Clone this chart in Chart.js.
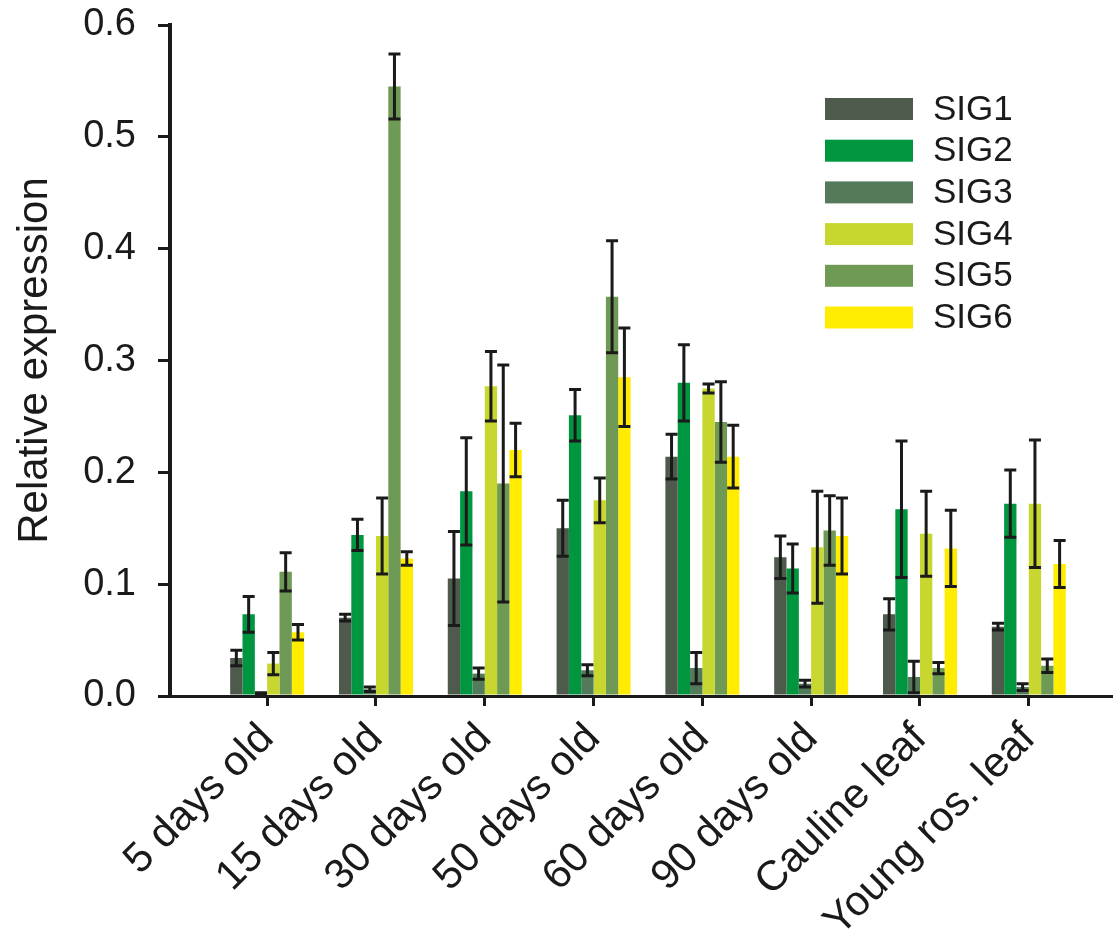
<!DOCTYPE html>
<html>
<head>
<meta charset="utf-8">
<script src="https://cdn.jsdelivr.net/npm/chart.js@4.4.1/dist/chart.umd.min.js"></script>
<style>
  html, body { margin: 0; padding: 0; background: #fff; }
  #wrap { width: 1113px; height: 938px; }
</style>
</head>
<body>
<div id="wrap"><canvas id="chart"></canvas></div>
<script>
// Tissues / ages on the x axis
const categories = ['5 days old', '15 days old', '30 days old', '50 days old',
  '60 days old', '90 days old', 'Cauline leaf', 'Young ros. leaf'];

// Mean relative expression per sigma factor
const sig1 = [0.034, 0.070, 0.105, 0.150, 0.214, 0.124, 0.073, 0.062];
const sig2 = [0.073, 0.144, 0.183, 0.251, 0.280, 0.114, 0.167, 0.172];
const sig3 = [0.002, 0.006, 0.020, 0.023, 0.025, 0.011, 0.017, 0.008];
const sig4 = [0.029, 0.143, 0.277, 0.175, 0.275, 0.133, 0.145, 0.172];
const sig5 = [0.111, 0.545, 0.190, 0.357, 0.245, 0.148, 0.025, 0.027];
const sig6 = [0.057, 0.123, 0.220, 0.285, 0.214, 0.143, 0.132, 0.118];

// Error bar half-widths (SD)
const sig1Err = [0.007, 0.003, 0.042, 0.025, 0.020, 0.019, 0.014, 0.003];
const sig2Err = [0.016, 0.014, 0.048, 0.023, 0.034, 0.022, 0.061, 0.030];
const sig3Err = [0.001, 0.002, 0.005, 0.005, 0.014, 0.003, 0.014, 0.003];
const sig4Err = [0.010, 0.034, 0.031, 0.020, 0.004, 0.050, 0.038, 0.057];
const sig5Err = [0.017, 0.029, 0.106, 0.050, 0.036, 0.031, 0.005, 0.006];
const sig6Err = [0.007, 0.006, 0.024, 0.044, 0.028, 0.034, 0.034, 0.021];

const yTicks = [0, 0.1, 0.2, 0.3, 0.4, 0.5, 0.6];

const seriesNames = ['SIG1', 'SIG2', 'SIG3', 'SIG4', 'SIG5', 'SIG6'];
const seriesValues = [sig1, sig2, sig3, sig4, sig5, sig6];
const seriesErrors = [sig1Err, sig2Err, sig3Err, sig4Err, sig5Err, sig6Err];
const seriesColors = ['#4e5a4b', '#00963f', '#527a5b', '#c8d72f', '#6f9a55', '#ffec00'];

const FONT = "'Liberation Sans', Arial, sans-serif";
const INK = '#1a1a1a';

/**
 * Draw SD whiskers on top of every bar
 */
const errorBars = {
  id: 'errorBars',
  afterDatasetsDraw(chart) {
    const ctx = chart.ctx;
    const y = chart.scales.y;
    ctx.save();
    ctx.strokeStyle = INK;
    ctx.lineWidth = 3;
    chart.data.datasets.forEach((ds, i) => {
      chart.getDatasetMeta(i).data.forEach((bar, j) => {
        const v = ds.data[j].y, e = ds.errors[j];
        const top = y.getPixelForValue(v + e);
        const bot = y.getPixelForValue(v - e);
        ctx.beginPath();
        ctx.moveTo(bar.x, top); ctx.lineTo(bar.x, bot);
        ctx.moveTo(bar.x - 6, top); ctx.lineTo(bar.x + 6, top);
        ctx.moveTo(bar.x - 6, bot); ctx.lineTo(bar.x + 6, bot);
        ctx.stroke();
      });
    });
    ctx.restore();
  }
};

/**
 * Legend sits inside the plot, upper right
 */
const innerLegend = {
  id: 'innerLegend',
  afterDraw(chart) {
    const ctx = chart.ctx;
    const x0 = chart.chartArea.left + 655;
    const y0 = chart.chartArea.top + 73;
    ctx.save();
    ctx.font = '35px ' + FONT;
    ctx.textBaseline = 'middle';
    chart.data.datasets.forEach((ds, i) => {
      const yy = y0 + i * 41.7;
      ctx.fillStyle = ds.backgroundColor;
      ctx.fillRect(x0, yy, 88, 22);
      ctx.fillStyle = INK;
      ctx.fillText(ds.label, x0 + 108, yy + 12);
    });
    ctx.restore();
  }
};

const ctx = document.getElementById('chart').getContext('2d');
new Chart(ctx, {
  type: 'bar',
  data: {
    datasets: seriesNames.map((name, i) => ({
      label: name,
      data: categories.map((c, j) => ({ x: j, y: seriesValues[i][j] })),
      errors: seriesErrors[i],
      backgroundColor: seriesColors[i],
      borderWidth: 0,
      categoryPercentage: 0.68,
      barPercentage: 1.0
    }))
  },
  options: {
    responsive: true,
    maintainAspectRatio: false,
    animation: false,
    layout: { padding: { top: 25, right: 0, left: 0, bottom: 0 } },
    plugins: {
      legend: { display: false },
      tooltip: { enabled: false }
    },
    scales: {
      x: {
        type: 'linear',
        offset: false,
        min: -0.893,
        max: 7.774,
        afterBuildTicks: s => { s.ticks = categories.map((c, i) => ({ value: i })); },
        afterFit: s => { s.height = 242; s.paddingLeft = 0; s.paddingRight = 0; },
        grid: { drawOnChartArea: false, offset: false, color: INK, lineWidth: 3, tickLength: 10 },
        border: { color: INK, width: 3 },
        ticks: {
          callback: v => categories[v],
          minRotation: 45, maxRotation: 45,
          padding: 8,
          color: INK,
          font: { family: FONT, size: 42 }
        }
      },
      y: {
        min: 0, max: 0.6,
        afterBuildTicks: s => { s.ticks = yTicks.map(v => ({ value: v })); },
        afterFit: s => { s.width = 170; s.paddingTop = 0; s.paddingBottom = 0; },
        grid: { drawOnChartArea: false, color: INK, lineWidth: 3, tickLength: 12 },
        border: { color: INK, width: 4 },
        ticks: {
          callback: v => v.toFixed(1),
          padding: 22,
          color: INK,
          font: { family: FONT, size: 38 }
        },
        title: {
          display: true,
          text: 'Relative expression',
          color: INK,
          padding: { top: 10, bottom: 0 },
          font: { family: FONT, size: 42 }
        }
      }
    }
  },
  plugins: [errorBars, innerLegend]
});
</script>
</body>
</html>
